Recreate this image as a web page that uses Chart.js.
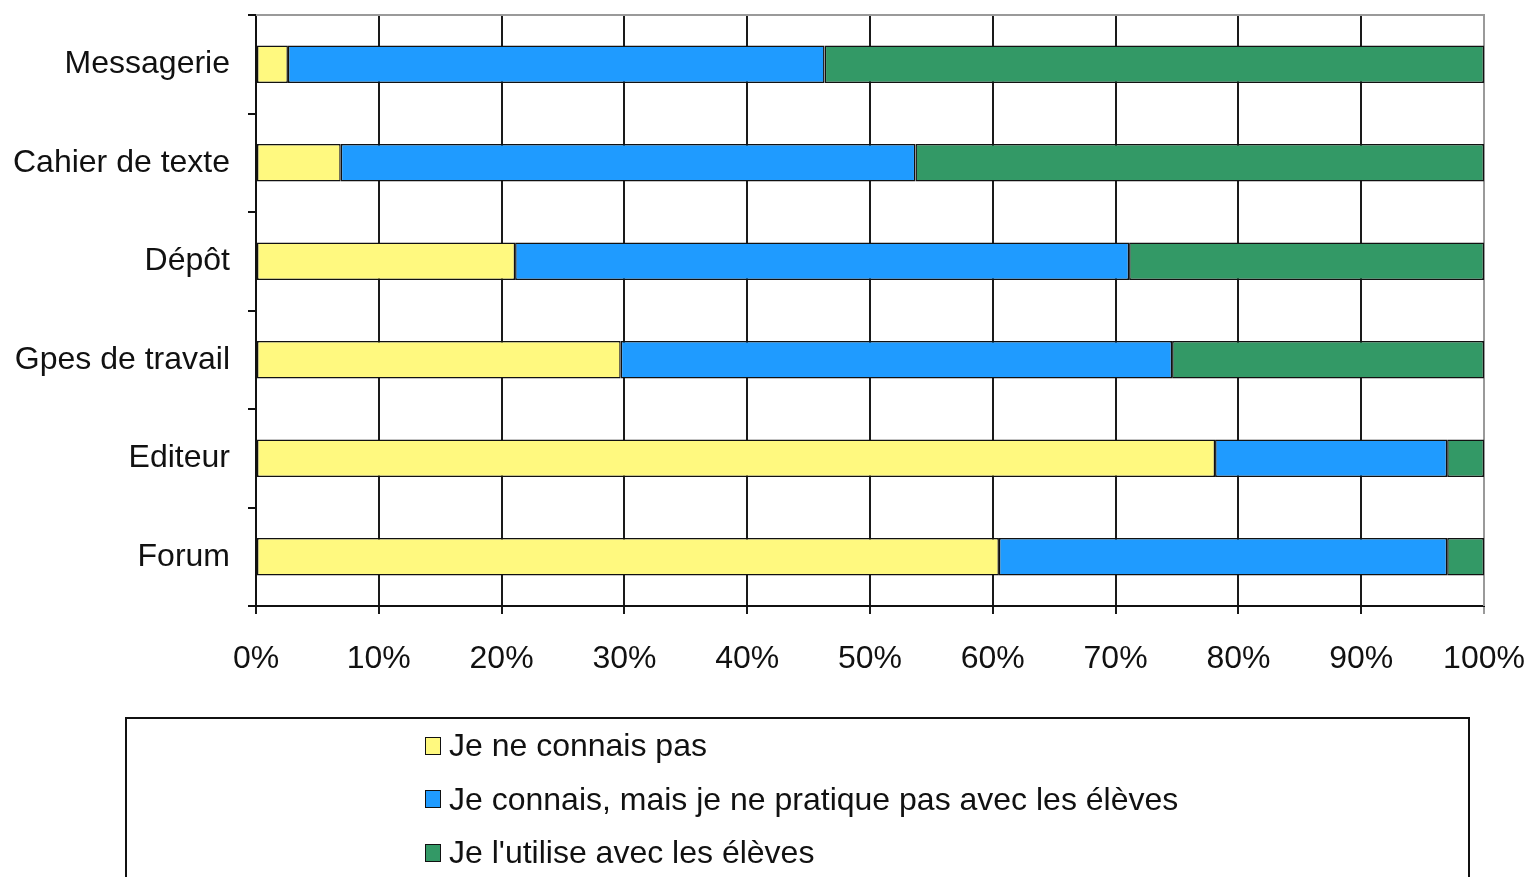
<!DOCTYPE html>
<html>
<head>
<meta charset="utf-8">
<script src="https://cdn.jsdelivr.net/npm/chart.js@4/dist/chart.umd.min.js"></script>
<style>
    body { margin: 0; background: #fff; }
    #wrap { position: relative; width: 1528px; height: 877px; overflow: hidden; }
    #myChart { position: absolute; left: 0; top: 0; }
    #legend {
        position: absolute; left: 125px; top: 717px; width: 1341px; height: 220px;
        border: 2px solid #111; font-family: 'Liberation Sans', Arial, sans-serif;
        font-size: 32px; color: #111;
    }
    .item { display: flex; align-items: center; height: 53.5px; margin-left: 298px; }
    .box { width: 14px; height: 16px; border: 1.5px solid #111; margin-right: 8px; }
</style>
</head>
<body>
<div id="wrap">
    <canvas id="myChart" width="1528" height="877"></canvas>
    <div id="legend"></div>
</div>
<script>
// categories, top to bottom
const categories = ['Messagerie', 'Cahier de texte', 'Dépôt', 'Gpes de travail', 'Editeur', 'Forum'];

// percentages
const neConnaisPas = [2.6, 6.9, 21.1, 29.7, 78.1, 60.5];
const connaisPasPratique = [43.7, 46.8, 50.0, 44.9, 18.9, 36.5];
const utiliseEleves = [53.7, 46.3, 28.9, 25.4, 3.0, 3.0];

const seriesLabels = [
    'Je ne connais pas',
    'Je connais, mais je ne pratique pas avec les élèves',
    "Je l'utilise avec les élèves"
];
const seriesColors = ['#FFF97F', '#1F9BFF', '#339966'];

const xTicks = [0, 10, 20, 30, 40, 50, 60, 70, 80, 90, 100];

const fontFamily = "'Liberation Sans', Arial, sans-serif";

// gray frame on top and right of the plot area
const plotFrame = {
    id: 'plotFrame',
    beforeDatasetsDraw(chart) {
        const { ctx, chartArea } = chart;
        ctx.save();
        ctx.strokeStyle = '#9a9a9a';
        ctx.lineWidth = 2;
        ctx.beginPath();
        ctx.moveTo(chartArea.left, chartArea.top);
        ctx.lineTo(chartArea.right, chartArea.top);
        ctx.lineTo(chartArea.right, chartArea.bottom);
        ctx.stroke();
        ctx.restore();
    }
};

// no extra padding from the labels, the layout padding decides
function noLabelPadding(scale) {
    scale.paddingTop = 0;
    scale.paddingBottom = 0;
    scale.paddingLeft = 0;
    scale.paddingRight = 0;
}

function makeDataset(i, values) {
    return {
        label: seriesLabels[i],
        data: values,
        backgroundColor: seriesColors[i],
        borderColor: '#111',
        borderWidth: 1.5,
        borderSkipped: false,
        categoryPercentage: 1,
        barPercentage: 0.38
    };
}

const ctx = document.getElementById('myChart').getContext('2d');
const myChart = new Chart(ctx, {
    type: 'bar',
    data: {
        labels: categories,
        datasets: [
            makeDataset(0, neConnaisPas),
            makeDataset(1, connaisPasPratique),
            makeDataset(2, utiliseEleves)
        ]
    },
    options: {
        indexAxis: 'y',
        responsive: false,
        animation: false,
        layout: { padding: { left: 0, top: 15, right: 44, bottom: 202 } },
        scales: {
            x: {
                stacked: true,
                min: 0,
                max: 100,
                afterBuildTicks: scale => { scale.ticks = xTicks.map(v => ({ value: v })); },
                afterFit: scale => { scale.height = 69; noLabelPadding(scale); },
                ticks: {
                    callback: v => v + '%',
                    color: '#111',
                    padding: 26,
                    maxRotation: 0,
                    font: { family: fontFamily, size: 32 }
                },
                grid: {
                    color: c => (c.tick && c.tick.value === 100) ? '#9a9a9a' : '#1a1a1a',
                    lineWidth: 2,
                    tickLength: 8
                },
                border: { color: '#111', width: 2 }
            },
            y: {
                stacked: true,
                afterFit: scale => { scale.width = 256; noLabelPadding(scale); },
                ticks: {
                    color: '#111',
                    padding: 18,
                    font: { family: fontFamily, size: 32 }
                },
                grid: {
                    drawOnChartArea: false,
                    drawTicks: true,
                    tickLength: 8,
                    color: '#111',
                    lineWidth: 2
                },
                border: { color: '#111', width: 2 }
            }
        },
        plugins: {
            legend: { display: false },
            tooltip: { enabled: false }
        }
    },
    plugins: [plotFrame]
});

// html legend built from the chart datasets
const legendDiv = document.getElementById('legend');
myChart.data.datasets.forEach(ds => {
    const row = document.createElement('div');
    row.className = 'item';
    const box = document.createElement('span');
    box.className = 'box';
    box.style.background = ds.backgroundColor;
    const txt = document.createElement('span');
    txt.innerText = ds.label;
    row.appendChild(box);
    row.appendChild(txt);
    legendDiv.appendChild(row);
});
</script>
</body>
</html>
